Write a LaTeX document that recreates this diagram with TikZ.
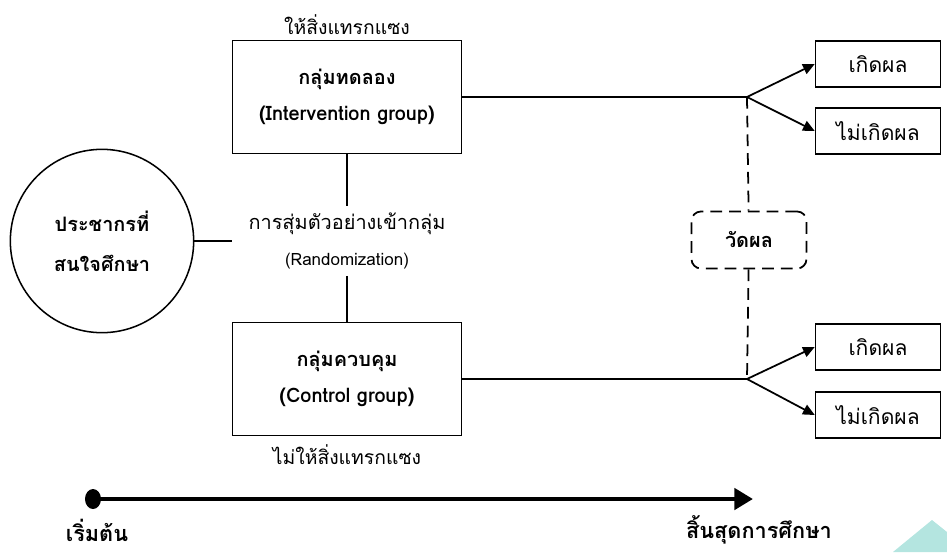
\documentclass[tikz,border=0pt]{standalone}
\usepackage{fontspec}
\setmainfont[Script=Thai]{Loma}
\usepackage{tikz}
\usetikzlibrary{positioning, arrows.meta}

\begin{document}
\begin{tikzpicture}[x=0.03cm, y=-0.03cm,
        font=\fontsize{16.5}{19}\selectfont,
        grp/.style={draw, line width=1.3pt, minimum width=6.87cm, minimum height=3.39cm, align=center, font=\fontsize{17}{20}\selectfont\bfseries},
        res/.style={draw, line width=1.3pt, minimum width=3.75cm, minimum height=1.38cm, font=\fontsize{18}{21}\selectfont},
        arr/.style={line width=1.5pt, -{Triangle[length=10pt, width=9pt]}},
        meas line/.style={line width=1.5pt, dash pattern=on 10pt off 6pt}]
    \useasboundingbox (0,0) rectangle (947,552);
    \node (pop) [draw, circle, line width=1.3pt, minimum size=5.5cm, align=center, font=\fontsize{17}{20}\selectfont\bfseries] at (102,241) {ประชากรที่\\[14pt]สนใจศึกษา};
    \node (exp) [grp] at (347,97) {กลุ่มทดลอง\\[11pt](Intervention group)};
    \node (ctl) [grp] at (347,379) {กลุ่มควบคุม\\[11pt](Control group)};
    \node (rand) [align=center, inner ysep=6pt, font=\fontsize{17}{20}\selectfont] at (347,241) {การสุ่มตัวอย่างเข้ากลุ่ม\\[10pt]{\fontsize{14.5}{17}\selectfont(Randomization)}};
    \node (give) [above=1pt of exp] {ให้สิ่งแทรกแซง};
    \node (nogive) [below=4pt of ctl] {ไม่ให้สิ่งแทรกแซง};
    \draw [line width=1.3pt] (pop) -- (pop.east -| exp.west);
    \draw [line width=1.3pt] (exp) -- (rand);
    \draw [line width=1.3pt] (rand) -- (ctl);
    \coordinate (bt) at (747,97);
    \coordinate (bb) at (747,379);
    \node (eyes) [res] at (878,64) {เกิดผล};
    \node (eno) [res] at (878,131) {ไม่เกิดผล};
    \node (cyes) [res] at (878,347) {เกิดผล};
    \node (cno) [res] at (878,415) {ไม่เกิดผล};
    \draw [line width=1.5pt] (exp.east |- bt) -- (bt);
    \draw [line width=1.5pt] (ctl.east |- bb) -- (bb);
    \foreach \a/\b in {bt/eyes, bt/eno, bb/cyes, bb/cno}
        \draw [arr] (\a) -- (\b.west);
    \node (meas) [draw, meas line, rounded corners=8pt, minimum width=3.45cm, minimum height=1.71cm, font=\fontsize{17}{20}\selectfont\bfseries] at (749,240) {วัดผล};
    \draw [meas line] (bt) -- (meas);
    \draw [meas line] (meas) -- (bb);
    \coordinate (t0) at (93,499);
    \coordinate (t1) at (753,499);
    \fill (t0) ellipse (8 and 10);
    \draw [line width=4pt, -{Triangle[length=16pt, width=18pt]}] (t0) -- (t1);
    \node (begin) [font=\fontsize{18.5}{21}\selectfont\bfseries] at (97,530) {เริ่มต้น};
    \node (end) [font=\fontsize{18.5}{21}\selectfont\bfseries] at (759,530) {สิ้นสุดการศึกษา};
    \fill [color={rgb,255:red,180;green,229;blue,224}] (893,552) -- (932,520) -- (947,532) -- (947,552) -- cycle;
\end{tikzpicture}
\end{document}
